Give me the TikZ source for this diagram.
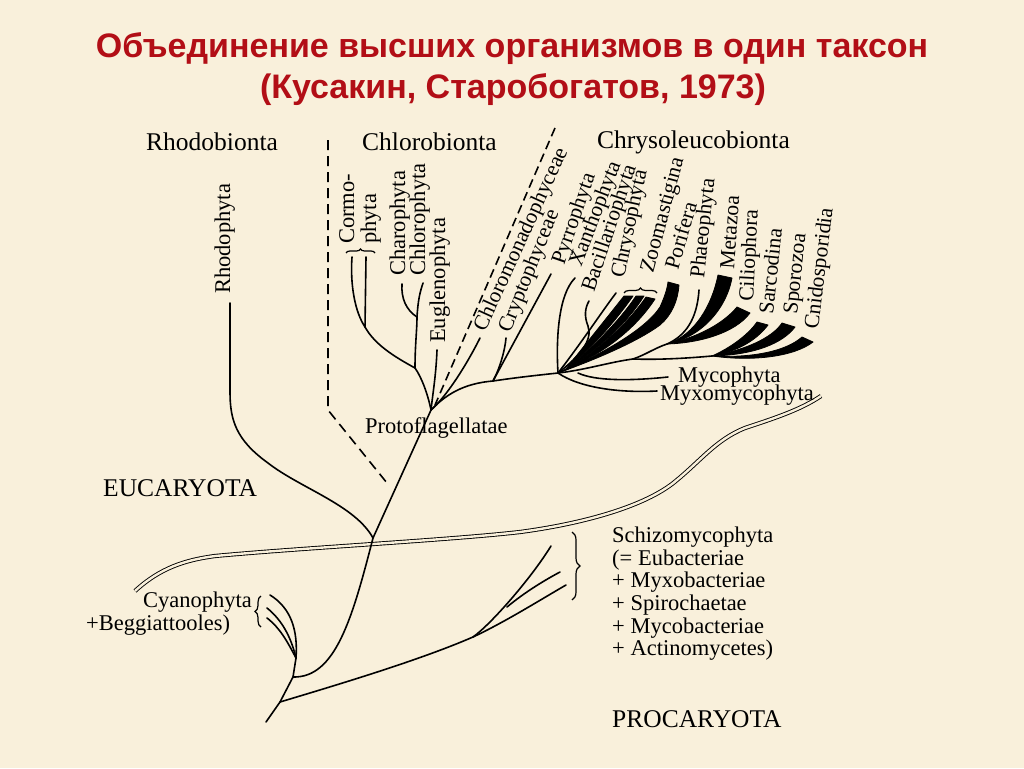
\documentclass[tikz,border=0pt]{standalone}
\usepackage{fontspec}
\setmainfont{Liberation Serif}
\newfontfamily\titlefont{Liberation Sans}
\usetikzlibrary{decorations.pathreplacing}
\definecolor{bgcol}{RGB}{249,240,219}
\definecolor{titlered}{RGB}{178,14,22}
\begin{document}
\begin{tikzpicture}[x=1pt,y=-1pt,
  br/.style={line width=1.6pt, line cap=round, line join=round},
  dsh/.style={line width=1.6pt, dash pattern=on 10pt off 6pt},
  wedge/.style={fill=black, draw=black, line width=0.8pt, line join=round},
  lbl/.style={font=\fontsize{22.5}{27}\selectfont, inner sep=0pt},
  hd/.style={font=\fontsize{25.5}{30}\selectfont, inner sep=0pt},
  rl/.style={lbl, anchor=base west},
  al/.style={font=\fontsize{21.5}{26}\selectfont, inner sep=0pt, anchor=base west},
  ttl/.style={font=\titlefont\bfseries\fontsize{34}{40}\selectfont, text=titlered, inner sep=0pt},
  dbl/.style={line width=0.9pt, double=bgcol, double distance=2.4pt},
  brc/.style={decorate, decoration={brace, amplitude=#1}, line width=1.2pt},
]
\fill[bgcol] (0,0) rectangle (1024,768);
\useasboundingbox (0,0) rectangle (1024,768);

% title
\node[ttl, anchor=base] (t1) at (512,58) {Объединение высших организмов в один таксон};
\node[ttl, anchor=base] (t2) at (513,98) {(Кусакин, Старобогатов, 1973)};

% coordinates
\coordinate (R0) at (266,722);
\coordinate (J0) at (280,702);
\coordinate (Jcy) at (293,677);
\coordinate (Cy0) at (296,658);
\coordinate (cy1) at (270,595);
\coordinate (cy2) at (267,608);
\coordinate (cy3) at (267,618);
\coordinate (Jrh) at (373,538);
\coordinate (P) at (431,410);
\coordinate (rh) at (230,303);
\coordinate (dA) at (328,140);
\coordinate (dB) at (328,410);
\coordinate (dC) at (387,483);
\coordinate (dD) at (555,128);
\coordinate (dE) at (435,405);
\coordinate (Jchl) at (415,368);
\coordinate (Jcor) at (365,327);
\coordinate (cm1) at (352,257);
\coordinate (cm2) at (366,257);
\coordinate (Jcc) at (417,317);
\coordinate (chl) at (423,283);
\coordinate (cha) at (402,284);
\coordinate (eug) at (437,350);
\coordinate (chm) at (480,338);
\coordinate (Jcr) at (493,381);
\coordinate (cry) at (506,338);
\coordinate (pyr) at (551,274);
\coordinate (F) at (558,373);
\coordinate (xan) at (575,278);
\coordinate (bac) at (589,301);
\coordinate (chr) at (616,293);
\coordinate (K) at (633,359);
\coordinate (G1) at (667,344);
\coordinate (G2) at (712,356);
\coordinate (pha) at (699,290);
\coordinate (myc0) at (578,373);
\coordinate (myc) at (668,377);
\coordinate (myx) at (657,391);
\coordinate (Js) at (473,637);
\coordinate (Js2) at (507,607);
\coordinate (sA) at (551,546);
\coordinate (sB) at (560,572);
\coordinate (sC) at (566,585);
\coordinate (w1) at (565,370);
\coordinate (w2) at (567,369);
\coordinate (w3) at (569,368);

% double line
\draw[dbl] (135,591) .. controls (160,568) and (185,560) .. (215,556)
  .. controls (300,548) and (450,540) .. (520,532)
  .. controls (580,524) and (640,508) .. (672,484)
  .. controls (700,462) and (715,440) .. (745,428)
  .. controls (775,418) and (800,410) .. (821,396);

% dashed lines
\draw[dsh] (dA) -- (dB) -- (dC);
\draw[dsh, dash pattern=on 9pt off 5pt] (dD) -- (dE);

% trunk
\draw[br] (R0) -- (J0) -- (Jcy) -- (Cy0);
\draw[br] (Cy0) .. controls (298,630) and (291,608) .. (cy1);
\draw[br] (Cy0) .. controls (291,637) and (282,620) .. (cy2);
\draw[br] (Cy0) .. controls (287,641) and (280,628) .. (cy3);
\draw[br] (Jcy) .. controls (335,678) and (352,620) .. (Jrh) -- (P);
\draw[br] (Jrh) .. controls (355,505) and (300,488) .. (268,463)
  .. controls (236,440) and (230,420) .. (230,392) -- (rh);

% prokaryote branch
\draw[br] (J0) .. controls (340,684) and (420,660) .. (Js);
\draw[br] (Js) .. controls (490,625) and (530,580) .. (sA);
\draw[br] (Js2) .. controls (525,592) and (545,580) .. (sB);
\draw[br] (Js) .. controls (505,622) and (540,600) .. (sC);

% Chlorobionta
\draw[br] (P) .. controls (428,395) and (422,378) .. (Jchl);
\draw[br] (Jchl) .. controls (395,357) and (375,345) .. (Jcor);
\draw[br] (Jcor) .. controls (355,312) and (350,285) .. (cm1);
\draw[br] (Jcor) -- (cm2);
\draw[br] (Jchl) .. controls (415,345) and (417,330) .. (Jcc);
\draw[br] (Jcc) .. controls (418,300) and (420,292) .. (chl);
\draw[br] (Jcc) .. controls (406,310) and (401,298) .. (cha);
\draw[br] (eug) .. controls (436,375) and (433,392) .. (P);

% right branch
\draw[br] (P) .. controls (448,395) and (468,362) .. (chm);
\draw[br] (P) .. controls (450,390) and (470,383) .. (Jcr) .. controls (520,377) and (540,375) .. (F);
\draw[br] (Jcr) .. controls (500,368) and (505,350) .. (cry);
\draw[br] (Jcr) -- (pyr);

% fan
\draw[br] (F) .. controls (556,340) and (558,295) .. (xan);
\draw[br] (F) .. controls (580,356) and (593,340) .. (588,326) .. controls (584,316) and (585,308) .. (bac);
\draw[br] (F) .. controls (582,342) and (603,310) .. (chr);
\fill[wedge] (w1) .. controls (585,345) and (605,320) .. (624,296) -- (633,296) .. controls (615,322) and (590,350) .. (w1) -- cycle;
\fill[wedge] (w2) .. controls (595,345) and (620,320) .. (636,296) -- (644,296) .. controls (628,322) and (600,348) .. (w2) -- cycle;
\fill[wedge] (w3) .. controls (605,345) and (630,320) .. (646,297) -- (655,299) .. controls (638,325) and (610,350) .. (w3) -- cycle;
\draw[br] (F) -- (w3);
\fill[wedge] (F) .. controls (600,355) and (645,330) .. (660,307) .. controls (664,298) and (667,290) .. (668,282)
  -- (679,285) .. controls (678,300) and (672,315) .. (660,325) .. controls (640,340) and (600,358) .. (F) -- cycle;
\draw[br] (F) .. controls (585,370) and (610,362) .. (K);
\draw[br] (K) .. controls (645,355) and (655,348) .. (G1);
\draw[br] (K) .. controls (660,360) and (690,358) .. (G2);
\draw[br] (G1) .. controls (685,336) and (697,320) .. (pha);
\fill[wedge] (G1) .. controls (695,335) and (712,305) .. (718,275) -- (732,278) .. controls (726,310) and (700,338) .. (G1) -- cycle;
\fill[wedge] (G1) .. controls (695,338) and (722,325) .. (737,307) -- (750,313) .. controls (735,333) and (700,343) .. (G1) -- cycle;
\fill[wedge] (G2) .. controls (730,348) and (748,335) .. (757,322) -- (768,325) .. controls (755,342) and (735,352) .. (G2) -- cycle;
\fill[wedge] (G2) .. controls (745,350) and (772,338) .. (782,323) -- (795,327) .. controls (783,343) and (755,355) .. (G2) -- cycle;
\fill[wedge] (G2) .. controls (750,358) and (785,352) .. (802,337) -- (813,342) .. controls (795,356) and (755,362) .. (G2) -- cycle;
\draw[br] (myc0) .. controls (595,381) and (630,381) .. (myc);
\draw[br] (F) .. controls (580,388) and (620,393) .. (myx);

% braces
\draw[brc=4pt] (346,253) -- (375,253);
\draw[brc=5pt] (624,293) -- (657,293);
\draw[brc=6pt] (261,627) -- (261,596);
\draw[brc=8pt] (572,532) -- (572,600);

% headings
\node[hd, anchor=base west] (rhb) at (146,150) {Rhodobionta};
\node[hd, anchor=base west] (chb) at (362,150) {Chlorobionta};
\node[hd, anchor=base west] (cyb) at (597,148) {Chrysoleucobionta};
\node[hd, anchor=base west] (euc) at (103,496) {EUCARYOTA};
\node[hd, anchor=base west] (pro) at (612,727) {PROCARYOTA};

% horizontal labels
\node[rl] (prf) at (365,433) {Protoflagellatae};
\node[rl] (cya) at (143,607) {Cyanophyta};
\node[rl] (beg) at (86,630) {+Beggiattooles)};
\node[rl] (mcl) at (678,382) {Mycophyta};
\node[rl] (mxl) at (660,400) {Myxomycophyta};
\node[rl] (s1) at (612,542) {Schizomycophyta};
\node[rl] (s2) at (612,565) {(= Eubacteriae};
\node[rl] (s3) at (612,587) {+ Myxobacteriae};
\node[rl] (s4) at (612,610) {+ Spirochaetae};
\node[rl] (s5) at (612,633) {+ Mycobacteriae};
\node[rl] (s6) at (612,655) {+ Actinomycetes)};

% rotated labels
\node[rl, rotate=90] (rhl) at (230,294) {Rhodophyta};
\node[rl, rotate=90] (cml) at (354,244) {Cormo-};
\node[rl, rotate=90] (phl) at (376,244) {phyta};
\node[rl, rotate=90] (chal) at (405,276) {Charophyta};
\node[rl, rotate=90] (chll) at (425,276) {Chlorophyta};
\node[rl, rotate=90] (eugl) at (445,343) {Euglenophyta};
\node[al, rotate=65.5] (chml) at (485,333) {Chloromonadophyceae};
\node[al, rotate=68] (cryl) at (510,334) {Cryptophyceae};
\node[al, rotate=71] (pyrl) at (564,266) {Pyrrophyta};
\node[al, rotate=69] (xanl) at (581,268) {Xanthophyta};
\node[al, rotate=71.5] (bacl) at (594,293) {Bacillariophyta};
\node[al, rotate=78] (chrl) at (624,279) {Chrysophyta};
\node[al, rotate=75] (zool) at (653,274) {Zoomastigina};
\node[al, rotate=74] (porl) at (678,271) {Porifera};
\node[al, rotate=84] (phal) at (704,279) {Phaeophyta};
\node[al, rotate=86] (metl) at (734,270) {Metazoa};
\node[al, rotate=87] (cill) at (753,302) {Ciliophora};
\node[al, rotate=84] (sarl) at (773,315) {Sarcodina};
\node[al, rotate=84] (spol) at (797,315) {Sporozoa};
\node[al, rotate=83] (cnil) at (818,330) {Cnidosporidia};
\end{tikzpicture}
\end{document}
